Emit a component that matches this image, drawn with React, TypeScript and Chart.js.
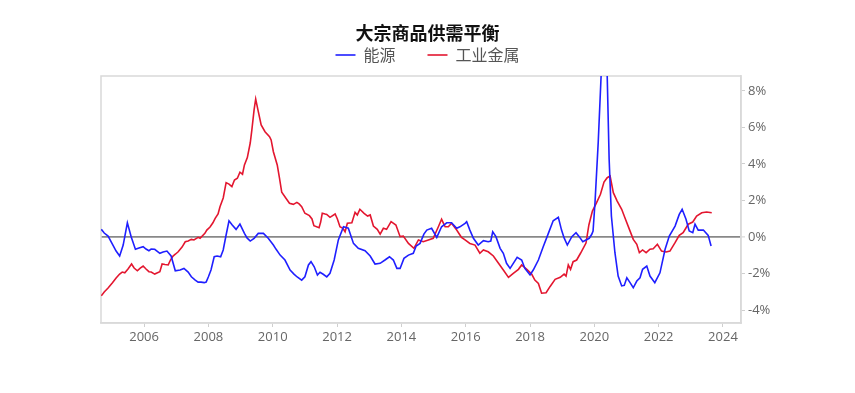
import { useEffect, useRef } from "react";
import { Chart, registerables } from "chart.js";

Chart.register(...registerables);

const titleText = "大宗商品供需平衡";
const seriesNames = ["能源", "工业金属"];

const energyDates = [
  2004.67, 2004.76, 2004.88, 2005.01, 2005.13, 2005.24, 2005.35, 2005.48, 2005.60, 2005.73,
  2005.84, 2005.97, 2006.06, 2006.15, 2006.22, 2006.33, 2006.49, 2006.59, 2006.71, 2006.84,
  2006.97, 2007.12, 2007.24, 2007.37, 2007.47, 2007.59, 2007.68, 2007.77, 2007.87, 2007.93,
  2008.00, 2008.08, 2008.18, 2008.27, 2008.38, 2008.46, 2008.55, 2008.64, 2008.74, 2008.86,
  2008.98, 2009.12, 2009.20, 2009.30, 2009.42, 2009.55, 2009.71, 2009.86, 2010.02, 2010.10,
  2010.23, 2010.38, 2010.54, 2010.66, 2010.76, 2010.90, 2011.00, 2011.11, 2011.19, 2011.29,
  2011.39, 2011.47, 2011.57, 2011.68, 2011.78, 2011.91, 2012.04, 2012.20, 2012.35, 2012.51,
  2012.66, 2012.87, 2013.03, 2013.18, 2013.34, 2013.49, 2013.63, 2013.75, 2013.86, 2013.96,
  2014.08, 2014.22, 2014.37, 2014.46, 2014.58, 2014.70, 2014.79, 2014.94, 2015.10, 2015.25,
  2015.41, 2015.56, 2015.72, 2015.82, 2015.98, 2016.03, 2016.13, 2016.24, 2016.39, 2016.55,
  2016.70, 2016.78, 2016.84, 2016.94, 2017.07, 2017.17, 2017.27, 2017.38, 2017.48, 2017.60,
  2017.74, 2017.84, 2018.00, 2018.10, 2018.26, 2018.41, 2018.57, 2018.72, 2018.88, 2018.98,
  2019.06, 2019.16, 2019.30, 2019.43, 2019.53, 2019.64, 2019.74, 2019.84, 2019.92, 2019.96,
  2020.02, 2020.12, 2020.21, 2020.31, 2020.40, 2020.46, 2020.53, 2020.64, 2020.74, 2020.85,
  2020.93, 2021.01, 2021.11, 2021.21, 2021.32, 2021.42, 2021.50, 2021.63, 2021.73, 2021.88,
  2022.04, 2022.20, 2022.33, 2022.51, 2022.64, 2022.73, 2022.85, 2022.95, 2023.06, 2023.13,
  2023.23, 2023.39, 2023.54, 2023.63,
];
const energyValues = [
  0.42, 0.22, 0.05, -0.38, -0.77, -1.04, -0.44, 0.78, 0.0, -0.67,
  -0.60, -0.53, -0.66, -0.75, -0.66, -0.67, -0.89, -0.82, -0.77, -1.04,
  -1.85, -1.81, -1.72, -1.92, -2.18, -2.36, -2.47, -2.47, -2.50, -2.47,
  -2.18, -1.81, -1.08, -1.04, -1.08, -0.71, 0.11, 0.89, 0.66, 0.42,
  0.71, 0.20, -0.05, -0.22, -0.07, 0.20, 0.20, -0.07, -0.44, -0.66,
  -0.99, -1.26, -1.81, -2.03, -2.19, -2.36, -2.18, -1.53, -1.35, -1.63,
  -2.08, -1.93, -2.04, -2.18, -1.99, -1.26, -0.16, 0.56, 0.48, -0.35,
  -0.62, -0.75, -1.04, -1.48, -1.44, -1.26, -1.08, -1.26, -1.72, -1.72,
  -1.17, -0.99, -0.89, -0.49, -0.35, 0.16, 0.38, 0.48, -0.02, 0.56,
  0.78, 0.78, 0.48, 0.56, 0.75, 0.84, 0.38, -0.07, -0.44, -0.20,
  -0.26, -0.22, 0.29, 0.02, -0.62, -0.89, -1.44, -1.72, -1.44, -1.11,
  -1.26, -1.72, -2.08, -1.81, -1.26, -0.53, 0.20, 0.89, 1.08, 0.38,
  -0.05, -0.44, 0.02, 0.24, 0.02, -0.26, -0.16, -0.07, 0.15, 0.33,
  1.88, 5.17, 8.82, 11.5, 8.82, 4.26, 1.15, -0.86, -2.14, -2.68,
  -2.65, -2.23, -2.50, -2.78, -2.41, -2.23, -1.77, -1.59, -2.14, -2.50,
  -1.96, -0.67, 0.05, 0.60, 1.24, 1.52, 0.97, 0.33, 0.24, 0.70,
  0.38, 0.38, 0.09, -0.49,
];

const metalDates = [
  2004.67, 2004.76, 2004.88, 2005.01, 2005.13, 2005.24, 2005.32, 2005.40, 2005.50, 2005.61,
  2005.69, 2005.79, 2005.88, 2005.97, 2006.06, 2006.15, 2006.22, 2006.33, 2006.40, 2006.49,
  2006.56, 2006.65, 2006.75, 2006.82, 2006.90, 2006.98, 2007.06, 2007.18, 2007.28, 2007.37,
  2007.47, 2007.55, 2007.68, 2007.74, 2007.89, 2007.95, 2008.05, 2008.14, 2008.21, 2008.30,
  2008.36, 2008.46, 2008.55, 2008.64, 2008.73, 2008.81, 2008.90, 2008.98, 2009.06, 2009.12,
  2009.21, 2009.30, 2009.35, 2009.42, 2009.47, 2009.54, 2009.64, 2009.76, 2009.90, 2009.95,
  2010.02, 2010.14, 2010.21, 2010.28, 2010.41, 2010.52, 2010.64, 2010.75, 2010.82, 2010.90,
  2011.00, 2011.14, 2011.22, 2011.28, 2011.44, 2011.49, 2011.54, 2011.63, 2011.68, 2011.78,
  2011.94, 2012.01, 2012.09, 2012.18, 2012.25, 2012.32, 2012.46, 2012.56, 2012.63, 2012.71,
  2012.84, 2012.95, 2013.03, 2013.13, 2013.25, 2013.34, 2013.44, 2013.54, 2013.68, 2013.83,
  2013.96, 2014.06, 2014.22, 2014.39, 2014.53, 2014.68, 2014.84, 2014.99, 2015.15, 2015.25,
  2015.36, 2015.46, 2015.56, 2015.72, 2015.82, 2015.87, 2015.98, 2016.13, 2016.29, 2016.44,
  2016.55, 2016.70, 2016.86, 2017.02, 2017.17, 2017.33, 2017.48, 2017.64, 2017.74, 2017.90,
  2018.05, 2018.15, 2018.26, 2018.36, 2018.50, 2018.62, 2018.78, 2018.94, 2019.06, 2019.12,
  2019.19, 2019.26, 2019.34, 2019.45, 2019.57, 2019.74, 2019.83, 2019.94, 2020.07, 2020.19,
  2020.30, 2020.40, 2020.49, 2020.59, 2020.71, 2020.85, 2020.95, 2021.09, 2021.21, 2021.32,
  2021.40, 2021.50, 2021.61, 2021.73, 2021.83, 2021.96, 2022.09, 2022.23, 2022.35, 2022.51,
  2022.64, 2022.76, 2022.92, 2023.06, 2023.18, 2023.34, 2023.49, 2023.65,
];
const metalValues = [
  -3.22, -3.01, -2.79, -2.52, -2.25, -2.03, -1.92, -1.96, -1.75, -1.48,
  -1.70, -1.85, -1.70, -1.59, -1.75, -1.90, -1.92, -2.03, -1.97, -1.90,
  -1.48, -1.51, -1.53, -1.26, -1.04, -0.93, -0.81, -0.55, -0.26, -0.22,
  -0.13, -0.16, -0.02, -0.07, 0.20, 0.38, 0.55, 0.78, 1.02, 1.26,
  1.66, 2.14, 2.98, 2.90, 2.76, 3.12, 3.22, 3.55, 3.44, 3.95,
  4.35, 5.15, 5.86, 6.96, 7.56, 6.96, 6.14, 5.77, 5.50, 5.32,
  4.67, 3.95, 3.23, 2.45, 2.12, 1.85, 1.79, 1.90, 1.81, 1.66,
  1.30, 1.17, 0.99, 0.62, 0.51, 0.82, 1.30, 1.26, 1.24, 1.08,
  1.26, 0.99, 0.56, 0.48, 0.29, 0.75, 0.78, 1.35, 1.21, 1.52,
  1.30, 1.15, 1.21, 0.60, 0.42, 0.16, 0.48, 0.42, 0.84, 0.66,
  0.02, 0.05, -0.35, -0.62, -0.16, -0.26, -0.16, -0.07, 0.56, 0.97,
  0.56, 0.56, 0.75, 0.38, 0.11, -0.02, -0.16, -0.35, -0.44, -0.89,
  -0.71, -0.81, -1.04, -1.44, -1.81, -2.21, -1.99, -1.77, -1.53, -1.77,
  -2.03, -2.36, -2.54, -3.08, -3.05, -2.72, -2.32, -2.21, -2.03, -2.14,
  -1.53, -1.77, -1.35, -1.26, -0.89, -0.33, 0.66, 1.42, 1.88, 2.34,
  3.01, 3.25, 3.34, 2.43, 1.97, 1.52, 1.06, 0.42, -0.13, -0.40,
  -0.86, -0.71, -0.86, -0.67, -0.64, -0.40, -0.77, -0.82, -0.77, -0.31,
  0.09, 0.24, 0.70, 0.82, 1.15, 1.33, 1.37, 1.33,
];

const xTickYears = [2006, 2008, 2010, 2012, 2014, 2016, 2018, 2020, 2022, 2024];
const yTickValues = [-4, -2, 0, 2, 4, 6, 8];

const W = 855;
const H = 393;

const framePlugin = {
  id: "frame",
  beforeDatasetsDraw(chart: any) {
    const { ctx, chartArea: a } = chart;
    ctx.save();
    ctx.strokeStyle = "#d9d9d9";
    ctx.lineWidth = 1.5;
    ctx.strokeRect(a.left, a.top, a.right - a.left, a.bottom - a.top);
    ctx.restore();
  },
};

const hiddenAxis = (axis: string, position: string, size: number) => ({
  type: "linear",
  axis,
  position,
  display: true,
  min: 0,
  max: 1,
  ticks: { display: false },
  grid: { display: false, drawTicks: false },
  border: { display: false },
  afterBuildTicks: (scale: any) => {
    scale.ticks = [];
  },
  afterFit: (scale: any) => {
    if (position === "left" || position === "right") scale.width = size;
    else scale.height = size;
  },
});

export default function App() {
  const ref = useRef<HTMLCanvasElement | null>(null);

  useEffect(() => {
    document.body.style.margin = "0";
    if (!ref.current) return;
    const chart = new Chart(ref.current, {
      type: "line",
      data: {
        datasets: [
          {
            label: seriesNames[0],
            data: energyDates.map((d, i) => ({ x: d, y: energyValues[i] })),
            xAxisID: "x",
            yAxisID: "y",
            borderColor: "#1f1fff",
            backgroundColor: "#1f1fff",
            borderWidth: 1.6,
            pointRadius: 0,
            tension: 0,
          },
          {
            label: seriesNames[1],
            data: metalDates.map((d, i) => ({ x: d, y: metalValues[i] })),
            xAxisID: "x",
            yAxisID: "y",
            borderColor: "#e3162f",
            backgroundColor: "#e3162f",
            borderWidth: 1.6,
            pointRadius: 0,
            tension: 0,
          },
        ],
      },
      options: {
        responsive: false,
        animation: false,
        maintainAspectRatio: false,
        layout: { padding: 0 },
        plugins: {
          title: {
            display: true,
            text: titleText,
            color: "#111",
            font: { family: "'Noto Sans CJK SC'", size: 18, weight: "bold" },
            padding: { top: 22.2, bottom: -28.8 },
          },
          legend: {
            display: true,
            labels: {
              usePointStyle: true,
              pointStyle: "line",
              pointStyleWidth: 20,
              color: "#555",
              font: { family: "'Noto Sans CJK SC'", size: 16 },
              padding: 32,
            },
          },
          tooltip: { enabled: false },
        },
        scales: {
          x: {
            type: "linear",
            axis: "x",
            position: "bottom",
            min: 2004.66,
            max: 2024.56,
            afterBuildTicks: (scale: any) => {
              scale.ticks = xTickYears.map((v) => ({ value: v }));
            },
            afterFit: (scale: any) => {
              scale.height = 70;
            },
            ticks: {
              color: "#666",
              font: { family: "'Open Sans'", size: 13 },
              padding: 2,
              maxRotation: 0,
              callback: (v: any) => String(v),
            },
            grid: {
              display: true,
              drawOnChartArea: false,
              tickLength: 4,
              tickColor: "#cfcfcf",
            },
            border: { display: true, color: "#d9d9d9", width: 1.5 },
          },
          y: {
            type: "linear",
            axis: "y",
            position: "right",
            min: -4.71,
            max: 8.82,
            afterBuildTicks: (scale: any) => {
              scale.ticks = yTickValues.map((v) => ({ value: v }));
            },
            afterFit: (scale: any) => {
              scale.width = 114;
            },
            ticks: {
              color: "#666",
              font: { family: "'Open Sans'", size: 13 },
              padding: 3,
              callback: (v: any) => v + "%",
            },
            grid: {
              display: true,
              drawOnChartArea: true,
              color: (c: any) => (c.tick && c.tick.value === 0 ? "#888888" : "rgba(0,0,0,0)"),
              lineWidth: (c: any) => (c.tick && c.tick.value === 0 ? 1.8 : 1),
              tickLength: 4,
              tickColor: "#cfcfcf",
              tickWidth: 1,
            },
            border: { display: true, color: "#d9d9d9", width: 1.5 },
          },
          xTop: hiddenAxis("x", "top", 3),
          yLeft: hiddenAxis("y", "left", 101),
        },
      },
      plugins: [framePlugin],
    } as any);
    return () => chart.destroy();
  }, []);

  return (
    <div style={{ position: "relative", width: W, height: H }}>
      <canvas ref={ref} width={W} height={H} style={{ width: W, height: H, display: "block" }} />
    </div>
  );
}
